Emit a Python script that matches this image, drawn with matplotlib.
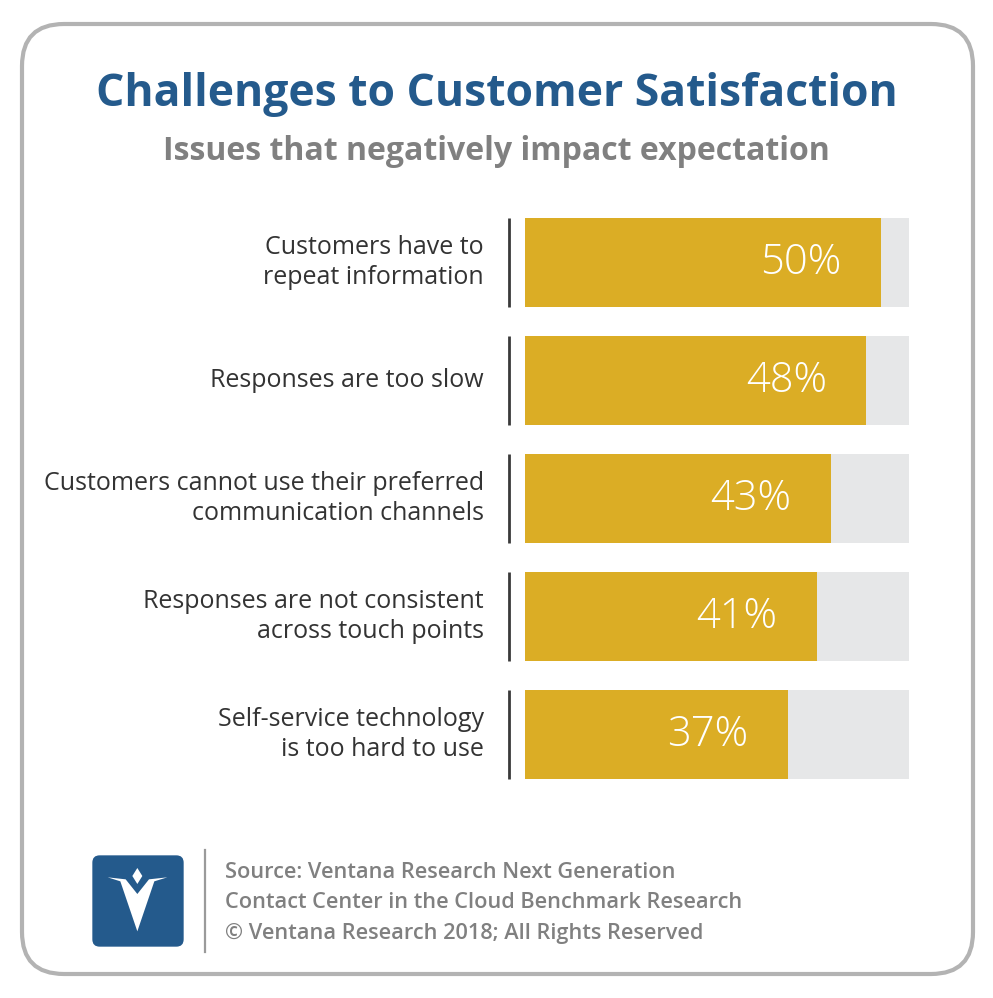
import matplotlib.pyplot as plt
from matplotlib.patches import FancyBboxPatch, Polygon
import numpy as np

W, H = 993, 998

categories = [
    "Customers have to\nrepeat information",
    "Responses are too slow",
    "Customers cannot use their preferred\ncommunication channels",
    "Responses are not consistent\nacross touch points",
    "Self-service technology\nis too hard to use",
]
values = [50, 48, 43, 41, 37]
value_labels = ["50%", "48%", "43%", "41%", "37%"]
scale_max = 54

title = "Challenges to Customer Satisfaction"
subtitle = "Issues that negatively impact expectation"
source_lines = [
    "Source: Ventana Research Next Generation",
    "Contact Center in the Cloud Benchmark Research",
    "\u00a9 Ventana Research 2018; All Rights Reserved",
]

GOLD = "#dbad25"
TRACK = "#e6e7e8"
BLUE = "#245a8c"
GREY = "#808080"
FONT = "Open Sans"

fig = plt.figure(figsize=(W / 100, H / 100), dpi=100)
fig.patch.set_facecolor("white")

# overlay in pixel coords for frame, titles, logo and source
bg = fig.add_axes([0, 0, 1, 1])
bg.set_xlim(0, W)
bg.set_ylim(H, 0)
bg.axis("off")

frame = FancyBboxPatch((22, 24), 951, 950, boxstyle="round,pad=0,rounding_size=42",
                       fc="none", ec="#b3b3b3", lw=3)
bg.add_patch(frame)

bg.text(W / 2, 94, title, ha="center", va="center", fontsize=32, fontweight="bold",
        color=BLUE, family=FONT)
bg.text(W / 2, 151, subtitle, ha="center", va="center", fontsize=23, fontweight="bold",
        color=GREY, family=FONT)

# logo
logo = bg.inset_axes([85, 848, 105, 105], transform=bg.transData)
logo.set_xlim(0, 315)
logo.set_ylim(315, 0)
logo.axis("off")
logo.add_patch(FancyBboxPatch((22, 22), 274, 274, boxstyle="round,pad=0,rounding_size=22",
                              fc=BLUE, ec="none"))
logo.add_patch(Polygon([(68, 88), (122, 94), (157, 138), (192, 94), (247, 88),
                        (208, 100), (157, 250), (106, 100)], closed=True, fc="white", ec="none"))
logo.add_patch(Polygon([(157, 60), (172, 84), (157, 108), (142, 84)], closed=True,
                       fc="white", ec="none"))

bg.plot([205, 205], [850, 952], color="#9a9a9a", lw=1.6)
for k, line in enumerate(source_lines):
    bg.text(225, 872 + 31 * k, line, ha="left", va="center", fontsize=15.7,
            fontweight="semibold", color=GREY, family=FONT)

# bar chart
ax = fig.add_axes([525 / W, 1 - 779 / H, 384 / W, 561 / H])
ax.set_facecolor("none")
n = len(values)
y = np.arange(n)
bh = 0.754
ax.barh(y, [scale_max] * n, height=bh, color=TRACK)
ax.barh(y, values, height=bh, color=GOLD)
ax.set_xlim(0, scale_max)
ax.set_ylim(n - 1 + bh / 2, -bh / 2)
ax.axis("off")

px = scale_max / 384.0
for i, (cat, v, lab) in enumerate(zip(categories, values, value_labels)):
    ax.plot([-16 * px, -16 * px], [i - bh / 2, i + bh / 2], color="#3a3a3a", lw=2,
            clip_on=False, solid_capstyle="butt")
    ax.text(-41 * px, i, cat, ha="right", va="center", fontsize=18, color="#333333",
            family=FONT, linespacing=1.25)
    ax.text(v - 80 * px, i, lab, ha="center", va="center", fontsize=30, color="white",
            family=FONT, fontweight="light")

fig.savefig("out.png", dpi=100)
